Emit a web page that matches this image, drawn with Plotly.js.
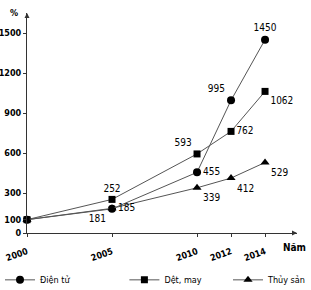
<!DOCTYPE html>
<html>
<head>
<meta charset="utf-8">
<script src="https://cdn.plot.ly/plotly-3.0.1.min.js"></script>
<style>html,body{margin:0;padding:0;background:#fff;}#chart{width:311px;height:290px;}</style>
</head>
<body>
<div id="chart"></div>
<script>
const years = [2000, 2005, 2010, 2012, 2014];
const dienTu = [100, 181, 455, 995, 1450];
const detMay = [100, 252, 593, 762, 1062];
const thuySan = [100, 185, 339, 412, 529];
const seriesNames = ['Điện tử', 'Dệt, may', 'Thủy sản'];
const yTicks = [0, 100, 300, 600, 900, 1200, 1500];

const lbl = arr => arr.map((v, i) => i === 0 ? '' : String(v));
const font = 'DejaVu Sans Condensed, Liberation Sans Narrow, Arial Narrow, sans-serif';
const lineCol = '#555';

const traces = [
  {x: years, y: dienTu, name: seriesNames[0], legend: 'legend', mode: 'lines+markers+text',
   text: lbl(dienTu), textposition: ['top center','bottom left','middle right','top left','top center'],
   line: {color: lineCol, width: 1}, marker: {symbol: 'circle', size: 8, color: '#000'},
   textfont: {family: font, size: 10, color: '#000'}, cliponaxis: false},
  {x: years, y: detMay, name: seriesNames[1], legend: 'legend2', mode: 'lines+markers+text',
   text: lbl(detMay), textposition: ['top center','top center','top left','middle right','bottom right'],
   line: {color: lineCol, width: 1}, marker: {symbol: 'square', size: 7, color: '#000'},
   textfont: {family: font, size: 10, color: '#000'}, cliponaxis: false},
  {x: years, y: thuySan, name: seriesNames[2], legend: 'legend3', mode: 'lines+markers+text',
   text: lbl(thuySan), textposition: ['top center','middle right','bottom right','bottom right','bottom right'],
   line: {color: lineCol, width: 1}, marker: {symbol: 'triangle-up', size: 8, color: '#000'},
   textfont: {family: font, size: 10, color: '#000'}, cliponaxis: false}
];

const legBase = (x, anchor) => ({orientation: 'h', xref: 'container', yref: 'container',
  x: x, xanchor: anchor, y: 0.035, yanchor: 'middle',
  itemwidth: 30, font: {family: font, size: 9, color: '#000'}, bgcolor: 'rgba(0,0,0,0)'});

const layout = {
  width: 311, height: 290,
  margin: {l: 27, r: 14, t: 13, b: 57},
  paper_bgcolor: '#fff', plot_bgcolor: '#fff',
  showlegend: true,
  legend: legBase(0, 'left'),
  legend2: legBase(0.4, 'left'),
  legend3: legBase(1, 'right'),
  xaxis: {range: [2000, 2015.88], tickvals: years, ticktext: years.map(String), tickangle: -20,
    showgrid: false, zeroline: false, showline: true, linecolor: '#333', linewidth: 1,
    ticks: 'outside', ticklen: 3, tickcolor: '#333', ticklabelstandoff: 6,
    tickfont: {family: font, size: 9, color: '#000', weight: 'bold'}},
  yaxis: {range: [0, 1650], tickvals: yTicks, ticktext: yTicks.map(String),
    showgrid: false, zeroline: false, showline: true, linecolor: '#333', linewidth: 1,
    ticks: 'outside', ticklen: 3, tickcolor: '#333',
    tickfont: {family: font, size: 9, color: '#000', weight: 'bold'}},
  annotations: [
    {xref: 'paper', yref: 'paper', x: 1, y: 0, ax: -6, ay: 0, showarrow: true,
     arrowhead: 2, arrowsize: 1, arrowwidth: 1, arrowcolor: '#333', text: ''},
    {xref: 'paper', yref: 'paper', x: 0, y: 1, ax: 0, ay: 6, showarrow: true,
     arrowhead: 2, arrowsize: 1, arrowwidth: 1, arrowcolor: '#333', text: ''},
    {xref: 'paper', yref: 'paper', x: 0.99, y: -0.064, xanchor: 'center', yanchor: 'middle', showarrow: false,
     text: '<b>Năm</b>', font: {family: font, size: 10, color: '#000'}},
    {xref: 'paper', yref: 'paper', x: -0.05, y: 1.0, xanchor: 'center', yanchor: 'middle', showarrow: false,
     text: '<b>%</b>', font: {family: font, size: 9, color: '#000'}}
  ]
};

Plotly.newPlot('chart', traces, layout, {staticPlot: true, displayModeBar: false});
</script>
</body>
</html>
